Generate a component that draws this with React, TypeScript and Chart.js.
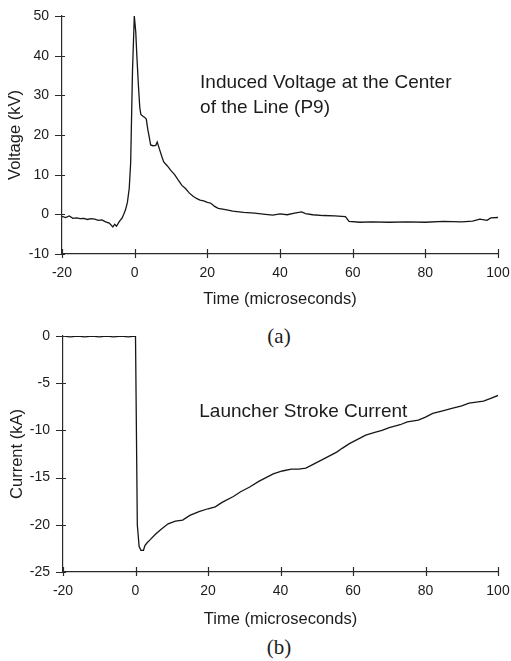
import React, { useEffect, useRef } from "react";
import { Chart, registerables } from "chart.js";

Chart.register(...registerables);

// ---- Data: (a) induced voltage at the center of the line (P9) ----
const voltTime = [
  -20, -19, -18, -17, -16, -15, -14, -13, -12, -11, -10, -9, -8, -7, -6, -5.5, -5, -4.5, -4, -3.5, -3,
  -2.5, -2, -1.5, -1.1, -0.6, -0.1, 0.3, 0.6, 1.0, 1.4, 1.7, 2.2, 2.7, 3.2, 3.6, 4.0,
  4.4, 5.0, 5.8, 6.2, 6.8, 7.5, 8, 9, 10, 11, 12, 13, 14, 15, 16, 17, 18, 19, 20, 21, 22, 23, 25, 27,
  30, 33, 36, 38, 40, 42, 44, 46, 47, 49, 52, 55, 58, 59, 62, 65, 70, 75, 80, 85, 90, 93, 95, 97, 98, 100,
];
const voltKV = [
  -0.5, -0.8, -0.4, -1.0, -0.9, -1.1, -1.0, -1.3, -1.1, -1.2, -1.5, -1.4, -1.9, -2.2, -3.2, -2.5, -3.0, -2.2, -1.5, -1.0, 0.0,
  1.2, 3.0, 6.5, 13, 36, 50, 46, 40, 33, 27, 25.2, 24.8, 24.5, 24, 21.5, 19.5,
  17.5, 17.3, 17.4, 18.2, 16.5, 14.5, 13.2, 12.2, 11, 10, 8.6, 7.3, 6.5, 5.4, 4.6, 4.0, 3.6, 3.4, 3.0, 2.8, 2.0, 1.5, 1.2, 0.8,
  0.5, 0.3, 0.0, -0.2, 0.1, -0.1, 0.3, 0.6, 0.2, -0.1, -0.3, -0.4, -0.6, -1.8, -2.0, -1.9, -2.0, -1.9, -2.0, -1.8, -1.9, -1.7, -1.2, -1.5, -0.9, -0.8,
];

// ---- Data: (b) launcher stroke current ----
const currTime = [
  -20, -18, -16, -14, -12, -10, -8, -6, -4, -2, 0, 0.5, 1.0, 1.5, 2.2, 2.6, 3.2, 4, 5.5, 7, 9, 11,
  13, 15, 17.5, 20, 22, 24, 27, 29, 31.5, 34, 36, 38, 40.5, 43, 45, 47, 49, 51, 53, 55.5, 57, 59, 61, 63.5,
  66, 68, 70, 73, 75, 78, 80, 82, 85, 87, 90, 92, 94, 96, 98, 100,
];
const currKA = [
  0, -0.1, 0, -0.1, 0, -0.1, 0, -0.1, 0, -0.1, 0, -20, -22.3, -22.7, -22.7, -22.2, -21.9, -21.6, -21, -20.5, -19.9, -19.6,
  -19.5, -19, -18.6, -18.3, -18.1, -17.6, -17.0, -16.5, -16.0, -15.4, -15.0, -14.6, -14.3, -14.1, -14.1, -14.0, -13.6, -13.2, -12.8, -12.3, -11.9, -11.4, -11.0, -10.5,
  -10.2, -10.0, -9.7, -9.4, -9.1, -8.9, -8.6, -8.2, -7.9, -7.7, -7.4, -7.1, -7.0, -6.9, -6.6, -6.3,
];

const xTicks = [-20, 0, 20, 40, 60, 80, 100];
const voltTicks = [-10, 0, 10, 20, 30, 40, 50];
const currTicks = [-25, -20, -15, -10, -5, 0];

const INK = "#1c1c1c";
const AXIS = "#2a2a2a";
const SANS = "'Liberation Sans', Arial, sans-serif";

type Spec = {
  xs: number[];
  ys: number[];
  yTicks: number[];
  yTitle: string;
  annot: string[];
  annotAt: [number, number, number];
  padTop: number;
  yWidth: number;
  xHeight: number;
  yTitlePad: number;
};

function PlotCanvas({ spec, width, height }: { spec: Spec; width: number; height: number }) {
  const ref = useRef<HTMLCanvasElement | null>(null);
  useEffect(() => {
    if (!ref.current) return;
    const points = spec.xs.map((x, i) => ({ x, y: spec.ys[i] }));
    const decor = {
      id: "decor",
      afterDraw(chart: any) {
        const { ctx, chartArea, scales } = chart;
        const sx = scales.x;
        const sy = scales.y;
        ctx.save();
        ctx.strokeStyle = AXIS;
        ctx.lineWidth = 1.2;
        ctx.beginPath();
        for (const v of xTicks) {
          const px = Math.round(sx.getPixelForValue(v)) + 0.5;
          ctx.moveTo(px, chartArea.bottom + 4);
          ctx.lineTo(px, chartArea.bottom - 5);
        }
        for (const v of spec.yTicks) {
          const py = Math.round(sy.getPixelForValue(v)) + 0.5;
          ctx.moveTo(chartArea.left - 7, py);
          ctx.lineTo(chartArea.left + 3, py);
        }
        ctx.stroke();
        ctx.fillStyle = INK;
        ctx.font = `19px ${SANS}`;
        ctx.textAlign = "left";
        ctx.textBaseline = "middle";
        const [ax, ay, step] = spec.annotAt;
        spec.annot.forEach((line, i) => {
          ctx.fillText(line, sx.getPixelForValue(ax), sy.getPixelForValue(ay - i * step));
        });
        ctx.restore();
      },
    };
    const chart = new Chart(ref.current, {
      type: "line",
      data: {
        datasets: [
          {
            data: points,
            borderColor: "#161616",
            borderWidth: 1.3,
            pointRadius: 0,
            tension: 0,
            fill: false,
          },
        ],
      },
      options: {
        responsive: false,
        animation: false,
        events: [],
        layout: { padding: { top: spec.padTop, right: 13, left: 0, bottom: 0 } },
        plugins: { legend: { display: false }, tooltip: { enabled: false } },
        scales: {
          x: {
            type: "linear",
            min: -20,
            max: 100,
            afterBuildTicks: (s: any) => {
              s.ticks = xTicks.map((v) => ({ value: v }));
            },
            afterFit: (s: any) => {
              s.height = spec.xHeight;
              s.paddingLeft = 0;
              s.paddingRight = 0;
            },
            grid: { drawOnChartArea: false, drawTicks: false, color: AXIS, lineWidth: 1 },
            border: { color: AXIS, width: 1.2 },
            ticks: { color: INK, font: { family: SANS, size: 14 }, padding: 11, maxRotation: 0 },
            title: {
              display: true,
              text: "Time (microseconds)",
              color: INK,
              font: { family: SANS, size: 16.5 },
              padding: { top: 0, bottom: 2.4 },
            },
          },
          y: {
            type: "linear",
            min: spec.yTicks[0],
            max: spec.yTicks[spec.yTicks.length - 1],
            afterBuildTicks: (s: any) => {
              s.ticks = spec.yTicks.map((v) => ({ value: v }));
            },
            afterFit: (s: any) => {
              s.width = spec.yWidth;
              s.paddingTop = 0;
              s.paddingBottom = 0;
            },
            grid: { drawOnChartArea: false, drawTicks: false, color: AXIS, lineWidth: 1 },
            border: { color: AXIS, width: 1.2 },
            ticks: { color: INK, font: { family: SANS, size: 14 }, padding: 13 },
            title: {
              display: true,
              text: spec.yTitle,
              color: INK,
              font: { family: SANS, size: 16.5 },
              padding: { top: spec.yTitlePad, bottom: 0 },
            },
          },
        },
      },
      plugins: [decor],
    } as any);
    return () => chart.destroy();
  }, [spec]);
  return <canvas ref={ref} width={width} height={height} style={{ display: "block", width, height }} />;
}

const specA: Spec = {
  xs: voltTime,
  ys: voltKV,
  yTicks: voltTicks,
  yTitle: "Voltage (kV)",
  annot: ["Induced Voltage at the Center", "of the Line (P9)"],
  annotAt: [18, 33.1, 6.3],
  padTop: 16,
  yWidth: 62,
  xHeight: 58,
  yTitlePad: 6,
};

const specB: Spec = {
  xs: currTime,
  ys: currKA,
  yTicks: currTicks,
  yTitle: "Current (kA)",
  annot: ["Launcher Stroke Current"],
  annotAt: [17.6, -8.06, 0],
  padTop: 24,
  yWidth: 63,
  xHeight: 60,
  yTitlePad: 8,
};

const capStyle: React.CSSProperties = {
  position: "absolute",
  left: 279,
  transform: "translate(-50%, -50%)",
  fontFamily: "'Liberation Serif', 'Times New Roman', serif",
  fontSize: 21,
  color: INK,
  lineHeight: 1,
  whiteSpace: "nowrap",
};

export default function App() {
  return (
    <div style={{ position: "absolute", left: 0, top: 0, width: 511, height: 661, background: "#fff", overflow: "hidden" }}>
      <div style={{ position: "absolute", left: 0, top: 0 }}>
        <PlotCanvas spec={specA} width={511} height={312} />
      </div>
      <div style={{ ...capStyle, top: 336 }}>(a)</div>
      <div style={{ position: "absolute", left: 0, top: 312 }}>
        <PlotCanvas spec={specB} width={511} height={320} />
      </div>
      <div style={{ ...capStyle, top: 647 }}>(b)</div>
    </div>
  );
}
